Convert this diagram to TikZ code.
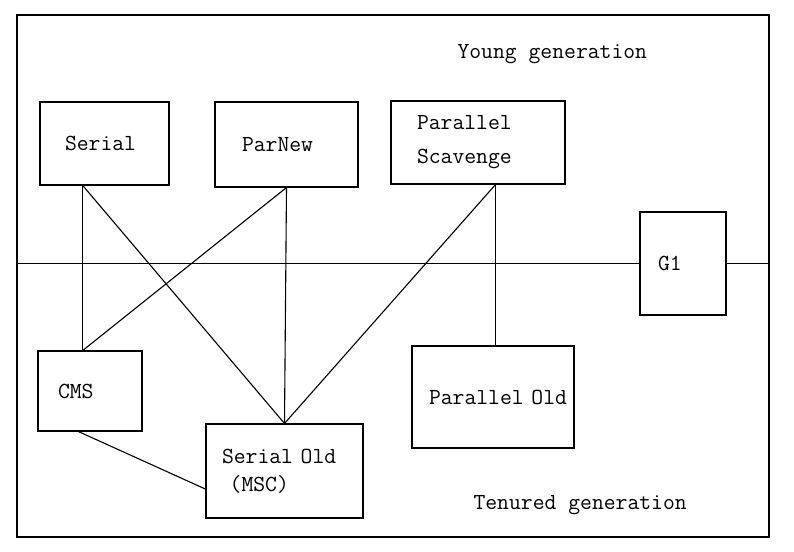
\documentclass[tikz,border=0pt]{standalone}
\usepackage{fontspec}
\usetikzlibrary{calc}

\begin{document}
\begin{tikzpicture}[x=0.5pt, y=-0.5pt, line width=0.55pt,
        every node/.style={font=\ttfamily\fontsize{11.5}{14}\selectfont},
        gcbox/.style n args={3}{draw, inner xsep=#1, text width=#2, minimum height=#3, align=left},
        gclabel/.style={anchor=west, inner sep=0pt}]
            \useasboundingbox (0,0) rectangle (794,552);
            \node[draw, minimum width=376pt, minimum height=261pt, inner sep=0pt] (heap) at (393,276) {};

            \node[gcbox={12.5pt}{39.5pt}{41.5pt}] (serial) at (104.5,143.5) {Serial};
            \node[gcbox={13.5pt}{44.5pt}{42.5pt}] (parnew) at (286.5,144.5) {\raisebox{-3pt}{ParNew}};
            \node[gcbox={13pt}{61pt}{41.5pt}] (pscav) at (478,142.5) {\vspace{3pt}Parallel\\Scavenge};
            \node[gcbox={9pt}{25pt}{51.5pt}] (g1) at (683,263.5) {G1};
            \node[gcbox={10pt}{32pt}{40pt}] (cms) at (90,391) {CMS};
            \node[gcbox={8pt}{62.5pt}{47pt}] (serialold) at (284.5,471) {Serial~Old\\~(MSC)};
            \node[gcbox={8.5pt}{64pt}{51pt}] (parold) at (493,397) {Parallel~Old};

            \node[gclabel] (young) at (457,54) {Young generation};
            \node[gclabel] (tenured) at (473,505) {Tenured generation};

            \coordinate (serialbot) at ($(serial.south west)!0.333!(serial.south east)$);
            \coordinate (pscavbot) at ($(pscav.south west)!0.6!(pscav.south east)$);
            \coordinate (cmstop) at (serialbot |- cms.north);
            \coordinate (cmsbot) at ($(cms.south west)!0.39!(cms.south east)$);
            \coordinate (serialoldleft) at ($(serialold.north west)!0.69!(serialold.south west)$);

            % young / tenured border
            \draw (heap.west |- g1.west) -- (g1.west);
            \draw (g1.east) -- (heap.east |- g1.east);

            \draw (serialbot) -- (cmstop);
            \draw (serialbot) -- (serialold.north);
            \draw (parnew.south) -- (serialold.north);
            \draw (parnew.south) -- (cmstop);
            \draw (pscavbot) -- (serialold.north);
            \draw (pscavbot) -- (pscavbot |- parold.north);
            \draw (cmsbot) -- (serialoldleft);
        \end{tikzpicture}
\end{document}
